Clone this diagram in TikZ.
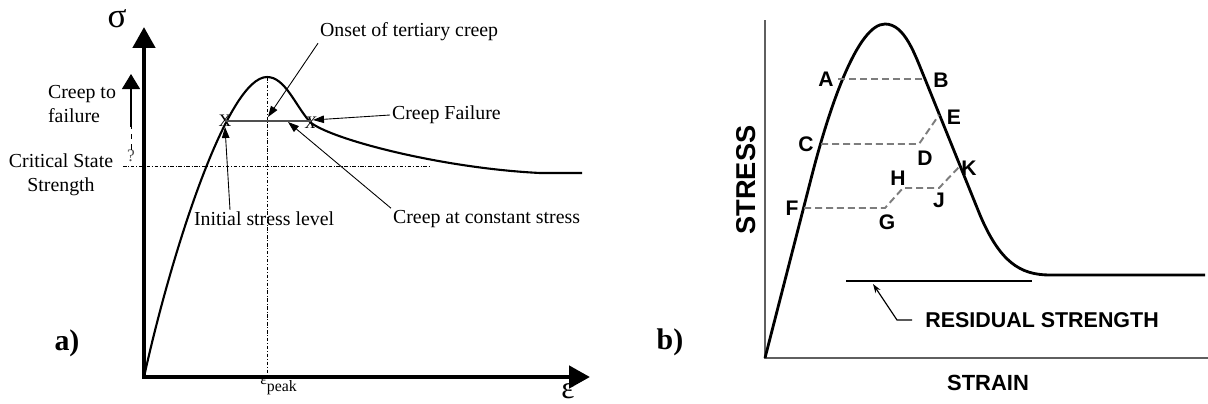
\documentclass[tikz,border=0pt]{standalone}
\usepackage{fontspec}
\setmainfont{Liberation Serif}
\newfontfamily\plotsans{Liberation Sans}
\usepackage{tikz}
\usetikzlibrary{arrows.meta, calc}
\definecolor{dashgray}{RGB}{125,125,125}
\definecolor{axisgray}{RGB}{95,95,95}
\definecolor{creepgray}{RGB}{80,80,80}

\begin{document}
\begin{tikzpicture}[x=0.02cm, y=-0.02cm,
    lbl/.style={font=\fontsize{11.3}{13.5}\selectfont, inner sep=1pt},
    ptlbl/.style={font=\plotsans\bfseries\fontsize{12}{14}\selectfont, inner sep=0pt},
    pointer/.style={line width=0.5pt, -{Triangle[length=0.22cm, width=0.15cm]}},
    bigaxis/.style={line width=2.6pt, line cap=rect, -{Triangle[length=0.42cm, width=0.44cm]}},
    refline/.style={line width=0.45pt, dash pattern=on 2pt off 1pt on 0.5pt off 1pt},
    guide/.style={dashgray, line width=1.1pt, dash pattern=on 0.14cm off 0.08cm}
]
    \useasboundingbox (0,0) rectangle (1208,403);

    % 图 a) 坐标轴
    \coordinate (O) at (144,377);
    \coordinate (ytip) at (144,27);
    \coordinate (xtip) at (590,377);
    \draw[bigaxis] (O) -- (ytip);
    \draw[bigaxis] (O) -- (xtip);
    \node (sigma) at (117,19) {\fontsize{20}{20}\selectfont σ};
    \node[inner sep=0pt] (eps) at (568,391) {\fontsize{18}{18}\selectfont ε};
    \node[anchor=west, inner sep=0pt] (epspeak) at (260,386) {\fontsize{9}{9}\selectfont ε\raisebox{-0.9ex}{peak}};
    \node[font=\bfseries\fontsize{17}{17}\selectfont] (tagA) at (67,343) {a)};

    % 应力-应变曲线
    \draw[line width=1.2pt, line join=round]
        (O) .. controls (172,250) and (228,77) .. (267,77)
            .. controls (285,77) and (295,105) .. (310,122)
            .. controls (330,139) and (440,168) .. (540,173) -- (582,173);

    % 参考线
    \coordinate (peak) at (267,77);
    \draw[refline] (peak) -- (peak |- O);
    \coordinate (css1) at (123,166);
    \coordinate (css2) at (430,166);
    \draw[refline] (css1) -- (css2);

    % 蠕变水平线
    \node[inner sep=0pt, font=\fontsize{10}{10}\selectfont] (xinit) at (225,121) {X};
    \node[inner sep=0pt, font=\fontsize{10}{10}\selectfont] (xfail) at (311,123) {\textit{X}};
    \draw[creepgray, line width=0.8pt] (xinit.center) -- (xfail.center |- xinit.center);

    % 标注
    \node[lbl, anchor=west] (onset) at (318,32) {Onset of tertiary creep};
    \coordinate (onsettip) at (268,117);
    \draw[pointer] (onset.south west) -- (onsettip);

    \node[lbl, anchor=west] (failure) at (390,115) {Creep Failure};
    \coordinate (failtip) at (313,120);
    \draw[pointer] (failure.west) -- (failtip);

    \node[lbl, anchor=west] (constant) at (391,219) {Creep at constant stress};
    \coordinate (consttip) at (288,122);
    \draw[pointer] (constant.north west) -- (consttip);

    \node[lbl, anchor=west] (initial) at (192,219) {Initial stress level};
    \coordinate (inittip) at (225,127);
    \draw[pointer] ($(initial.north west)+(38,0)$) -- (inittip);

    \node[lbl, anchor=west, align=left] (toFail) at (46,104) {Creep to\\failure};
    \node[lbl, align=center] (critical) at (61,175) {Critical State\\Strength};
    \node[inner sep=0pt, font=\fontsize{10}{10}\selectfont, text=creepgray] (qmark) at (131,156) {?};
    \coordinate (dashtop) at (131,127);
    \coordinate (failtop) at (131,74);
    \draw[dashed, line width=0.5pt] (qmark.north) -- (dashtop);
    \draw[line width=0.6pt, -{Triangle[length=0.3cm, width=0.36cm]}] (dashtop) -- (failtop);

    % 图 b) 坐标轴
    \coordinate (O2) at (765,358);
    \draw[axisgray, line width=0.9pt] (765,20) -- (O2) -- (1208,358);
    \node[rotate=90, font=\plotsans\bfseries\fontsize{15.5}{16}\selectfont] (stress) at (746,180) {STRESS};
    \node[font=\plotsans\bfseries\fontsize{12.5}{14}\selectfont] (strain) at (988,383) {STRAIN};
    \node[font=\bfseries\fontsize{17}{17}\selectfont] (tagB) at (670,342) {b)};

    % 峰值-残余曲线
    \draw[line width=1.6pt, line join=round]
        (O2) -- (812,175) .. controls (830,105) and (858,24) .. (885,24)
             .. controls (905,24) and (915,55) .. (925,79) -- (980,215)
             .. controls (1000,262) and (1020,275) .. (1050,275) -- (1205,275);

    % 残余强度
    \coordinate (res1) at (846,281);
    \coordinate (res2) at (1032,281);
    \draw[line width=1.6pt] (res1) -- (res2);
    \node[font=\plotsans\bfseries\fontsize{12.2}{14}\selectfont, anchor=west, inner xsep=0.26cm, inner ysep=0pt] (resid) at (912,320) {RESIDUAL STRENGTH};
    \coordinate (restip) at (873,284);
    \draw[line width=0.7pt, -{Stealth[length=0.18cm, width=0.12cm]}] (resid.west) -- ++(-15,0) -- (restip);

    % 虚线路径
    \coordinate (pA) at (838,79);  \coordinate (pB) at (925,79);
    \coordinate (pC) at (821,144); \coordinate (pD) at (919,144); \coordinate (pE) at (939,115);
    \coordinate (pF) at (804,208); \coordinate (pG) at (885,208); \coordinate (pH) at (903,188);
    \coordinate (pJ) at (939,188); \coordinate (pK) at (960,166);
    \draw[guide] (pA) -- (pB);
    \draw[guide] (pC) -- (pD) -- (pE);
    \draw[guide] (pF) -- (pG) -- (pH) -- (pJ) -- (pK);

    % 点标记
    \node[ptlbl] (lA) at (826,79) {A};
    \node[ptlbl] (lB) at (941,80) {B};
    \node[ptlbl] (lC) at (806,144) {C};
    \node[ptlbl] (lD) at (925,158) {D};
    \node[ptlbl] (lE) at (954,117) {E};
    \node[ptlbl] (lF) at (792,208) {F};
    \node[ptlbl] (lG) at (887,222) {G};
    \node[ptlbl] (lH) at (898,178) {H};
    \node[ptlbl] (lJ) at (939,200) {J};
    \node[ptlbl] (lK) at (969,168) {K};

\end{tikzpicture}
\end{document}
